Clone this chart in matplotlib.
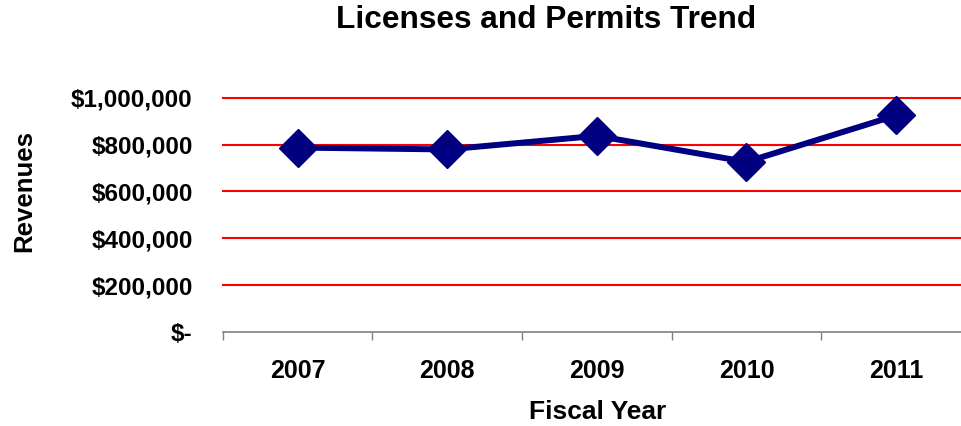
import numpy as np
import matplotlib.pyplot as plt
from matplotlib.ticker import FuncFormatter

plt.rcParams['font.family'] = ['Liberation Sans', 'DejaVu Sans']

years = ['2007', '2008', '2009', '2010', '2011']
revenues = [787000, 779000, 837000, 726000, 924000]
y_ticks = [0, 200000, 400000, 600000, 800000, 1000000]


def money(v, pos):
    if v == 0:
        return '$-'
    return '${:,.0f}'.format(v)


fig = plt.figure(figsize=(9.61, 4.26), dpi=100)
# the plot area runs a little past the right edge of the figure
ax = fig.add_axes([0.2318, 0.2200, 0.7785, 0.5509])

x = np.arange(len(years))
for t in y_ticks[1:]:
    ax.axhline(t, color='#ff0000', lw=1.5, zorder=1, clip_on=False)
ax.plot(x, revenues, color='#000080', lw=4.3, marker='D', markersize=19,
        zorder=3, clip_on=False)

ax.set_xlim(-0.5, len(years) - 0.5)
ax.set_ylim(0, 1000000)
ax.set_yticks(y_ticks)
ax.yaxis.set_major_formatter(FuncFormatter(money))
ax.tick_params(axis='y', length=0, pad=21.6, labelsize=17.5)
for lbl in ax.get_yticklabels():
    lbl.set_fontweight('bold')

ax.set_xticks(x)
ax.set_xticklabels(years, fontsize=18, fontweight='bold')
ax.set_xticks(np.arange(len(years) + 1) - 0.5, minor=True)
ax.tick_params(axis='x', which='major', length=0, pad=19.5)
ax.tick_params(axis='x', which='minor', length=6, width=1, color='#808080',
               direction='out')

for s in ['top', 'right', 'left']:
    ax.spines[s].set_visible(False)
ax.spines['bottom'].set_color('#808080')
ax.spines['bottom'].set_linewidth(1.2)

fig.text(0.6215, 0.016, 'Fiscal Year', fontsize=19, fontweight='bold',
         ha='center', va='baseline')
fig.text(0.025, 0.552, 'Revenues', rotation=90, fontsize=18.5,
         fontweight='bold', ha='center', va='center')

fig.text(0.568, 0.9336, 'Licenses and Permits Trend', fontsize=22.8,
         fontweight='bold', ha='center', va='baseline')

fig.savefig('out.png', dpi=100)
